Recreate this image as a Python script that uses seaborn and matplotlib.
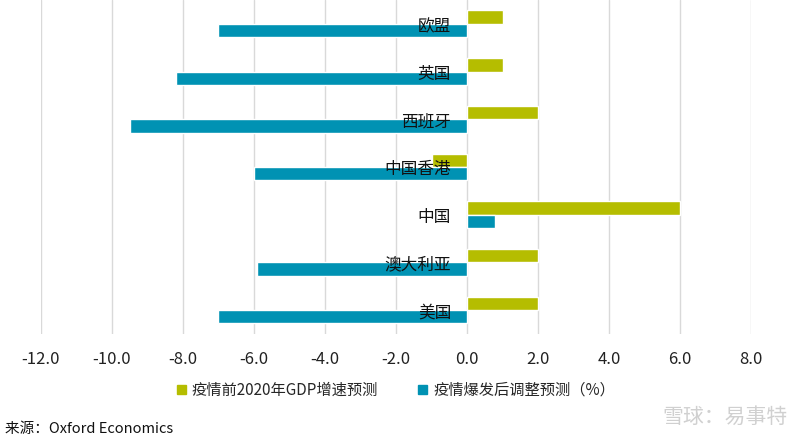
import pandas as pd
import seaborn as sns
import matplotlib.pyplot as plt

# Data
regions = ["欧盟", "英国", "西班牙", "中国香港", "中国", "澳大利亚", "美国"]
pre_covid = [1.0, 1.0, 2.0, -1.0, 6.0, 2.0, 2.0]
post_covid = [-7.0, -8.2, -9.5, -6.0, 0.8, -5.9, -7.0]
series_names = ["疫情前2020年GDP增速预测", "疫情爆发后调整预测（%）"]
xticks = [-12, -10, -8, -6, -4, -2, 0, 2, 4, 6, 8]

df = pd.DataFrame({
    "region": regions * 2,
    "value": pre_covid + post_covid,
    "series": [series_names[0]] * len(regions) + [series_names[1]] * len(regions),
})

sns.set_theme(style="white")
plt.rcParams["font.family"] = ["Noto Sans CJK SC", "DejaVu Sans"]

fig = plt.figure(figsize=(8, 4.41), dpi=100)
ax = fig.add_axes([0.051, 0.243, 0.888, 0.757])

colors = ["#B5BD00", "#0092B3"]
sns.barplot(data=df, y="region", x="value", hue="series", order=regions,
            hue_order=series_names, palette=colors, orient="h", width=0.56,
            saturation=1, ax=ax, legend=False)

ax.set_xlim(-12, 8)
ax.set_ylim(len(regions) - 0.5, -0.5)
ax.set_xticks(xticks)
ax.set_xticklabels([f"{t:.1f}" for t in xticks], fontsize=12, color="#222222")
ax.tick_params(axis="x", length=0, pad=12)
ax.set_yticks([])
ax.set_xlabel("")
ax.set_ylabel("")
ax.grid(axis="x", color="#D9D9D9", linewidth=1)
ax.set_axisbelow(True)
for s in ax.spines.values():
    s.set_visible(False)

# category labels next to the zero line
for i, name in enumerate(regions):
    ax.text(-0.45, i + 0.06, name, ha="right", va="center", fontsize=12, color="#111111")

# legend
handles = [plt.Rectangle((0, 0), 1, 1, color=c) for c in colors]
fig.legend(handles, series_names, loc="center", bbox_to_anchor=(0.495, 0.115),
           ncol=2, frameon=False, fontsize=11, handlelength=0.6, handleheight=0.6,
           handletextpad=0.4, columnspacing=2.6)

fig.text(0.006, 0.018, "来源：Oxford Economics", fontsize=10.5, color="#111111")
fig.text(0.985, 0.04, "雪球：易事特", fontsize=15, color="#D0D0D0", ha="right")

fig.savefig("out.png", dpi=100)
